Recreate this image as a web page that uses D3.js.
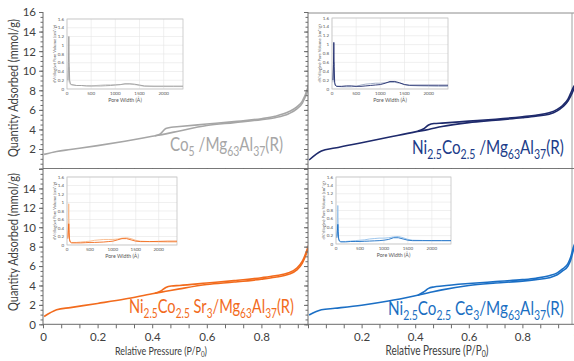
<!DOCTYPE html>
<html>
<head>
<meta charset="utf-8">
<script src="https://cdn.jsdelivr.net/npm/d3@7"></script>
<style>
  body { margin: 0; background: #fff; }
  svg { display: block; font-family: Lato, "Open Sans", sans-serif; }
</style>
</head>
<body>
<svg id="chart" width="574" height="361"></svg>
<script>
// ---- isotherm data (relative pressure, quantity adsorbed mmol/g) ----
const adsP = [0.004, 0.05, 0.1, 0.2, 0.3, 0.4, 0.45, 0.5, 0.6, 0.7, 0.8, 0.85, 0.9, 0.93, 0.95, 0.97, 0.98, 0.99, 0.997];
const desP = [0.997, 0.99, 0.98, 0.97, 0.95, 0.93, 0.9, 0.85, 0.8, 0.7, 0.6, 0.5, 0.47, 0.45, 0.43, 0.41];

const adsCo = [1.45, 1.75, 1.95, 2.35, 2.8, 3.3, 3.55, 3.85, 4.4, 4.7, 5.0, 5.2, 5.6, 6.1, 6.7, 8.1, 9.2, 10.5, 11.5];
const desCo = [11.6, 10.6, 9.4, 8.3, 6.9, 6.3, 5.8, 5.35, 5.1, 4.8, 4.55, 4.3, 4.22, 4.1, 3.55, 3.35];

const adsNiCo = [0.88, 1.8, 2.1, 2.65, 3.2, 3.75, 4.0, 4.3, 4.7, 4.95, 5.2, 5.35, 5.55, 5.9, 6.3, 6.9, 7.4, 8.0, 8.5];
const desNiCo = [8.6, 8.3, 7.7, 7.1, 6.45, 6.05, 5.7, 5.45, 5.3, 5.05, 4.85, 4.65, 4.6, 4.45, 4.05, 3.85];

const adsSr = [0.8, 1.5, 1.72, 2.15, 2.6, 3.15, 3.4, 3.65, 4.1, 4.35, 4.65, 4.85, 5.15, 5.6, 6.3, 7.7, 8.6, 9.6, 10.3];
const desSr = [10.4, 9.8, 8.8, 7.9, 6.5, 5.8, 5.3, 5.0, 4.8, 4.5, 4.25, 4.0, 3.95, 3.8, 3.4, 3.2];

const adsCe = [0.96, 1.5, 1.65, 1.97, 2.4, 2.95, 3.25, 3.55, 4.0, 4.25, 4.45, 4.6, 4.8, 5.1, 5.5, 6.0, 6.6, 7.6, 8.3];
const desCe = [8.4, 7.9, 6.9, 6.25, 5.7, 5.3, 5.0, 4.75, 4.6, 4.4, 4.2, 3.95, 3.85, 3.7, 3.3, 3.0];

// ---- pore size distribution insets (pore width Å, dV/dlog(w)) ----
const poreWidth = [20, 30, 38, 45, 55, 70, 100, 200, 300, 400, 500, 600, 700, 800, 900, 1000, 1100, 1200, 1300, 1400, 1500, 1600, 1800, 2000, 2200, 2400];
const psdCoA = [0.2, 0.6, 1.2, 0.6, 0.2, 0.12, 0.1, 0.08, 0.08, 0.07, 0.07, 0.07, 0.07, 0.075, 0.08, 0.09, 0.1, 0.12, 0.12, 0.11, 0.09, 0.07, 0.065, 0.065, 0.065, 0.065];
const psdCoB = [0.15, 0.35, 0.5, 0.3, 0.15, 0.1, 0.09, 0.08, 0.08, 0.075, 0.07, 0.08, 0.09, 0.1, 0.1, 0.1, 0.1, 0.11, 0.11, 0.1, 0.08, 0.06, 0.055, 0.055, 0.055, 0.055];
const psdNiCoA = [0.2, 0.55, 1.05, 0.5, 0.15, 0.08, 0.06, 0.06, 0.07, 0.07, 0.06, 0.06, 0.07, 0.08, 0.09, 0.1, 0.13, 0.17, 0.17, 0.14, 0.1, 0.085, 0.085, 0.085, 0.085, 0.085];
const psdNiCoB = [0.15, 0.4, 0.6, 0.3, 0.12, 0.08, 0.06, 0.05, 0.05, 0.05, 0.06, 0.09, 0.11, 0.12, 0.13, 0.13, 0.14, 0.15, 0.15, 0.13, 0.1, 0.08, 0.07, 0.065, 0.06, 0.06];
const psdSrA = [0.15, 0.35, 0.5, 0.3, 0.12, 0.07, 0.05, 0.05, 0.05, 0.055, 0.06, 0.06, 0.065, 0.07, 0.08, 0.09, 0.12, 0.15, 0.15, 0.12, 0.09, 0.08, 0.08, 0.085, 0.09, 0.09];
const psdSrB = [0.2, 0.6, 0.97, 0.5, 0.15, 0.08, 0.06, 0.06, 0.07, 0.08, 0.09, 0.11, 0.12, 0.13, 0.13, 0.13, 0.14, 0.16, 0.17, 0.15, 0.11, 0.09, 0.08, 0.075, 0.07, 0.07];
const psdCeA = [0.15, 0.33, 0.47, 0.3, 0.12, 0.07, 0.05, 0.05, 0.06, 0.06, 0.06, 0.065, 0.07, 0.075, 0.08, 0.09, 0.11, 0.15, 0.15, 0.12, 0.09, 0.08, 0.08, 0.08, 0.08, 0.08];
const psdCeB = [0.2, 0.6, 0.92, 0.5, 0.15, 0.08, 0.06, 0.06, 0.07, 0.08, 0.09, 0.1, 0.12, 0.13, 0.14, 0.14, 0.15, 0.17, 0.18, 0.15, 0.11, 0.09, 0.085, 0.08, 0.08, 0.08];

// ---- ticks and labels ----
const yTickValues = [0, 2, 4, 6, 8, 10, 12, 14, 16];
const insetYTicks = [0, 0.2, 0.4, 0.6, 0.8, 1, 1.2, 1.4, 1.6];
const insetXTicks = [0, 500, 1000, 1500, 2000];
const yTitle = "Quantity Adsorbed (mmol/g)";
const insetYTitle = "dV/dlog(w) Pore Volume (cm³/g)";
const insetXTitle = "Pore Width (Å)";

// sample names as [text, isSubscript] parts
const labelCo = [["Co", 0], ["5", 1], [" /Mg", 0], ["63", 1], ["Al", 0], ["37", 1], ["(R)", 0]];
const labelNiCo = [["Ni", 0], ["2.5", 1], ["Co", 0], ["2.5", 1], [" /Mg", 0], ["63", 1], ["Al", 0], ["37", 1], ["(R)", 0]];
const labelSr = [["Ni", 0], ["2.5", 1], ["Co", 0], ["2.5", 1], [" Sr", 0], ["3", 1], ["/Mg", 0], ["63", 1], ["Al", 0], ["37", 1], ["(R)", 0]];
const labelCe = [["Ni", 0], ["2.5", 1], ["Co", 0], ["2.5", 1], [" Ce", 0], ["3", 1], ["/Mg", 0], ["63", 1], ["Al", 0], ["37", 1], ["(R)", 0]];

const svg = d3.select("#chart");
const axisColor = "#6b6b6b";
const textColor = "#404040";

const panels = [
  { id: "tl", x0: 43, x1: 316, left: 43, right: 308, top: 12, bottom: 168.6, ads: adsCo, des: desCo,
    color: "#a6a6a6", textCol: "#a6a6a6", label: labelCo, lx: 170, ly: 151, lw: 113,
    yLabels: [2, 4, 6, 8, 10, 12, 14, 16], xLabels: [], yTitleY: 88,
    inset: { x: 67, y: 19, w: 116, h: 70, a: psdCoA, b: psdCoB, ca: "#9c9c9c", cb: "#cfcfcf" } },
  { id: "bl", x0: 43, x1: 316, left: 43, right: 308, top: 169, bottom: 324.3, ads: adsSr, des: desSr,
    color: "#f26b1d", textCol: "#f26b1d", label: labelSr, lx: 129, ly: 313, lw: 165,
    yLabels: [0, 2, 4, 6, 8, 10, 12, 14], xLabels: [0, 0.2, 0.4, 0.6, 0.8], yTitleY: 242,
    xt: { cx: 161, w: 92, fs: 11.5 },
    inset: { x: 67, y: 177, w: 110, h: 68, a: psdSrA, b: psdSrB, ca: "#f06a1c", cb: "#f8b888" } },
  { id: "tr", x0: 308, x1: 576, left: 308, right: 574, top: 13, bottom: 168.6, ads: adsNiCo, des: desNiCo,
    color: "#1e2a6c", textCol: "#203c89", label: labelNiCo, lx: 412, ly: 154, lw: 152,
    yLabels: [], xLabels: [], border: true,
    inset: { x: 332, y: 18, w: 116, h: 71, a: psdNiCoA, b: psdNiCoB, ca: "#1e2a6c", cb: "#9aa6c2" } },
  { id: "br", x0: 308, x1: 576, left: 308, right: 574, top: 169, bottom: 324.3, ads: adsCe, des: desCe,
    color: "#1b6fc5", textCol: "#1b6fc2", label: labelCe, lx: 388, ly: 315, lw: 176,
    yLabels: [], xLabels: [0.2, 0.4, 0.6, 0.8, 1], border: true,
    xt: { cx: 437, w: 103, fs: 12.5 },
    inset: { x: 336, y: 177, w: 115, h: 67, a: psdCeA, b: psdCeB, ca: "#1b6fc5", cb: "#93c0ea" } }
];

panels.forEach(drawPanel);

// squeeze a text horizontally (along its own direction) so it takes the given width
function fitText(t, tx, ty, width, rot) {
  t.attr("x", 0).attr("y", 0);
  const w = t.node().getBBox().width;
  const k = width / w;
  t.attr("transform", `translate(${tx},${ty})${rot ? " rotate(" + rot + ")" : ""} scale(${k},1)`);
}

function drawPanel(p) {
  const g = svg.append("g").attr("class", "panel-" + p.id);
  const yTopPx = p.id[0] === "t" ? 12 : 169;
  const x = d3.scaleLinear().domain([0, 1]).range([p.x0, p.x1]);
  const y = d3.scaleLinear().domain([0, 16]).range([p.bottom, yTopPx]);

  // white background so right panels cover the left ones
  g.append("rect")
    .attr("x", p.left).attr("y", p.top)
    .attr("width", p.right - p.left).attr("height", p.bottom - p.top)
    .attr("fill", "#fff");

  if (p.border) {
    if (p.id === "tr") {
      g.append("line").attr("x1", p.left).attr("x2", 574).attr("y1", 13).attr("y2", 13)
        .attr("stroke", "#8c8c8c").attr("stroke-width", 1);
    }
    g.append("line").attr("x1", 572).attr("x2", 572).attr("y1", p.top).attr("y2", p.bottom)
      .attr("stroke", "#a0a0a0").attr("stroke-width", 1);
  }

  const clipId = "clip-" + p.id;
  g.append("clipPath").attr("id", clipId)
    .append("rect").attr("x", p.left).attr("y", p.top - 1)
    .attr("width", p.right - p.left).attr("height", p.bottom - p.top + 1);

  // inset
  drawInset(g, p.inset);

  // isotherm lines
  const line = d3.line().x(d => x(d[0])).y(d => y(d[1])).curve(d3.curveMonotoneX);
  const adsPts = adsP.map((v, i) => [v, p.ads[i]]);
  const desPts = d3.sort(desP.map((v, i) => [v, p.des[i]]), d => d[0]);
  const curves = g.append("g").attr("clip-path", `url(#${clipId})`);
  [adsPts, desPts].forEach(pts => {
    curves.append("path").datum(pts)
      .attr("d", line)
      .attr("fill", "none")
      .attr("stroke", p.color)
      .attr("stroke-width", 1.6);
  });

  // sample label
  const t = g.append("text")
    .attr("fill", p.textCol)
    .attr("font-size", 19.5);
  let shifted = false;
  p.label.forEach(([s, sub]) => {
    const span = t.append("tspan").text(s);
    if (sub && !shifted) { span.attr("dy", 5).attr("font-size", 13.5); shifted = true; }
    else if (sub) { span.attr("font-size", 13.5); }
    else if (shifted) { span.attr("dy", -5); shifted = false; }
  });
  fitText(t, p.lx, p.ly, p.lw);

  // y axis: minor then major ticks
  const yMinor = g.append("g").attr("transform", `translate(${p.left},0)`)
    .call(d3.axisLeft(y).tickValues(d3.range(0, 16.01, 0.5)).tickSize(2.5).tickFormat(""));
  yMinor.select(".domain").remove();
  yMinor.selectAll(".tick line").attr("stroke", axisColor);
  const yMajor = g.append("g").attr("transform", `translate(${p.left},0)`)
    .call(d3.axisLeft(y).tickValues(yTickValues).tickSize(4).tickFormat(d => p.yLabels.includes(d) ? d : ""));
  yMajor.select(".domain").attr("d", `M0,${p.bottom}V${yTopPx}`).attr("stroke", axisColor);
  yMajor.selectAll(".tick line").attr("stroke", axisColor);
  yMajor.selectAll(".tick text").attr("fill", textColor).attr("font-size", 11.5)
    .attr("font-family", "Lato, sans-serif").attr("x", -7).attr("dy", "0.34em");

  // x axis
  const xMinor = g.append("g").attr("transform", `translate(0,${p.bottom})`)
    .call(d3.axisBottom(x).tickValues(d3.range(0, 1.001, 0.2 / 3).filter(v => x(v) <= p.right + 0.5)).tickSize(4).tickFormat(""));
  xMinor.select(".domain").attr("d", `M${p.left},0H${p.right}`).attr("stroke", axisColor);
  xMinor.selectAll(".tick line").attr("stroke", axisColor);
  if (p.xLabels.length) {
    g.append("g").attr("transform", `translate(0,${p.bottom})`)
      .call(d3.axisBottom(x).tickValues(p.xLabels).tickSize(0).tickFormat(d => String(d)))
      .call(g2 => g2.select(".domain").remove())
      .selectAll(".tick text").attr("fill", textColor).attr("font-size", 11.5)
      .attr("font-family", "Lato, sans-serif").attr("y", 9);

    const xt = g.append("text")
      .attr("text-anchor", "middle")
      .attr("fill", textColor)
      .attr("font-size", p.xt.fs)
      .call(tt => {
        tt.append("tspan").text("Relative Pressure (P/P");
        tt.append("tspan").text("0").attr("font-size", p.xt.fs * 0.7).attr("dy", 2.5);
        tt.append("tspan").text(")").attr("dy", -2.5);
      });
    fitText(xt, p.xt.cx, 354.5, p.xt.w);
  }

  if (p.yTitleY) {
    const yt = g.append("text")
      .attr("text-anchor", "middle")
      .attr("fill", textColor)
      .attr("font-size", 13.5)
      .text(yTitle);
    fitText(yt, 18, p.yTitleY, 138, -90);
  }
}

function drawInset(g, s) {
  const ig = g.append("g");
  const ix = d3.scaleLinear().domain([0, 2400]).range([s.x, s.x + s.w]);
  const iy = d3.scaleLinear().domain([0, 1.6]).range([s.y + s.h, s.y]);

  ig.append("rect").attr("x", s.x - 18).attr("y", s.y - 4).attr("width", s.w + 22).attr("height", s.h + 22)
    .attr("fill", "#fff");

  ig.append("g").selectAll("line").data(insetYTicks).join("line")
    .attr("x1", s.x).attr("x2", s.x + s.w)
    .attr("y1", d => iy(d)).attr("y2", d => iy(d))
    .attr("stroke", "#e6e6e6").attr("stroke-width", 0.6);
  ig.append("g").selectAll("line").data(insetXTicks).join("line")
    .attr("x1", d => ix(d)).attr("x2", d => ix(d))
    .attr("y1", s.y).attr("y2", s.y + s.h)
    .attr("stroke", "#e6e6e6").attr("stroke-width", 0.6);
  ig.append("rect").attr("x", s.x).attr("y", s.y).attr("width", s.w).attr("height", s.h)
    .attr("fill", "none").attr("stroke", "#c4c4c4").attr("stroke-width", 0.8);

  ig.append("g").selectAll("text").data(insetYTicks).join("text")
    .attr("x", s.x - 3).attr("y", d => iy(d) + 1.5)
    .attr("text-anchor", "end").attr("font-size", 4.5).attr("fill", "#555")
    .text(d => d);
  ig.append("g").selectAll("text").data(insetXTicks).join("text")
    .attr("x", d => ix(d)).attr("y", s.y + s.h + 6)
    .attr("text-anchor", "middle").attr("font-size", 4.5).attr("fill", "#555")
    .text(d => d);
  ig.append("text")
    .attr("x", s.x + s.w / 2).attr("y", s.y + s.h + 12.5)
    .attr("text-anchor", "middle").attr("font-size", 5.2).attr("fill", "#555")
    .text(insetXTitle);
  ig.append("text")
    .attr("transform", `translate(${s.x - 11},${s.y + s.h / 2}) rotate(-90)`)
    .attr("text-anchor", "middle").attr("font-size", 4.2).attr("fill", "#555")
    .text(insetYTitle);

  const l = d3.line().x((d, i) => ix(poreWidth[i])).y(d => iy(d));
  ig.append("path").datum(s.b).attr("d", l).attr("fill", "none").attr("stroke", s.cb).attr("stroke-width", 0.9);
  ig.append("path").datum(s.a).attr("d", l).attr("fill", "none").attr("stroke", s.ca).attr("stroke-width", 0.9);
}
</script>
</body>
</html>
